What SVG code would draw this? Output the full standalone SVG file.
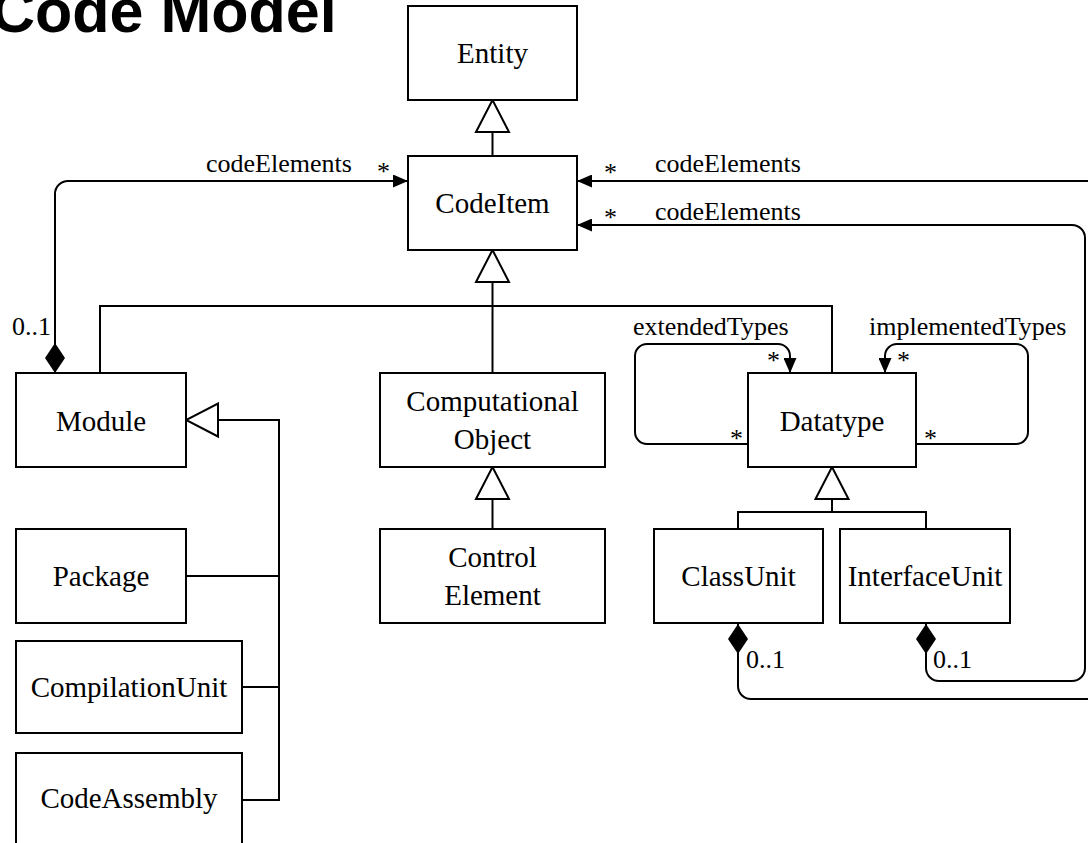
<svg xmlns="http://www.w3.org/2000/svg" width="1088" height="843" viewBox="0 0 1088 843">
  <style>
    .box { fill: #ffffff; stroke: #000000; stroke-width: 2; }
    .lbl { font-family: "Liberation Serif", "Times New Roman", serif; font-size: 29px; fill: #000000; text-anchor: middle; }
    .elbl { font-family: "Liberation Serif", "Times New Roman", serif; font-size: 26px; fill: #000000; }
    .edge { fill: none; stroke: #000000; stroke-width: 2; }
    .title { font-family: "Liberation Sans", Arial, sans-serif; font-size: 61px; font-weight: bold; fill: #000000; }
  </style>
  <defs>
    <!-- filled navigation arrow -->
    <marker id="arrow" markerUnits="userSpaceOnUse" markerWidth="15" markerHeight="13" refX="15" refY="6.5" orient="auto">
      <path d="M0,0 L15,6.5 L0,13 z" fill="#000000"/>
    </marker>
    <!-- hollow generalization triangle -->
    <marker id="gen" markerUnits="userSpaceOnUse" viewBox="-2 -2 36 37" markerWidth="36" markerHeight="37" refX="32" refY="16.5" orient="auto">
      <path d="M0,0 L32,16.5 L0,33 z" fill="#ffffff" stroke="#000000" stroke-width="2"/>
    </marker>
    <!-- filled composition diamond -->
    <marker id="comp" markerUnits="userSpaceOnUse" viewBox="0 -1 31 22" markerWidth="31" markerHeight="22" refX="0" refY="10" orient="auto">
      <path d="M0,10 L15,0 L30,10 L15,20 z" fill="#000000"/>
    </marker>
  </defs>

  <rect width="1088" height="843" fill="#ffffff"/>

  <text class="title" x="-9" y="32">Code Model</text>

  <g id="connectors">
    <!-- generalizations -->
    <path class="edge" d="M492.5,156 V100" marker-end="url(#gen)"/>
    <path class="edge" d="M492.5,373 V250" marker-end="url(#gen)"/>
    <path class="edge" d="M100,373 V306 H832 V373"/>
    <path class="edge" d="M492.5,529 V467" marker-end="url(#gen)"/>
    <path class="edge" d="M832,512 V467" marker-end="url(#gen)"/>
    <path class="edge" d="M738,529 V512 H926 V529"/>
    <path class="edge" d="M242,800 H279 V420 H186" marker-end="url(#gen)"/>
    <path class="edge" d="M186,576 H279"/>
    <path class="edge" d="M242,687 H279"/>

    <!-- codeElements associations -->
    <path class="edge" d="M55,373 V194 A13,13 0 0 1 68,181 H408" marker-start="url(#comp)" marker-end="url(#arrow)"/>
    <path class="edge" d="M1100,181 H577" marker-end="url(#arrow)"/>
    <path class="edge" d="M926,624 V668 A13,13 0 0 0 939,681 H1072 A13,13 0 0 0 1085,668 V238 A13,13 0 0 0 1072,225 H577" marker-start="url(#comp)" marker-end="url(#arrow)"/>
    <path class="edge" d="M738,624 V686 A13,13 0 0 0 751,699 H1100" marker-start="url(#comp)"/>

    <!-- self associations on Datatype -->
    <path class="edge" d="M748,444 H647 A12,12 0 0 1 635,432 V356 A12,12 0 0 1 647,344 H778 A12,12 0 0 1 790,356 V373" marker-end="url(#arrow)"/>
    <path class="edge" d="M916,444 H1016 A12,12 0 0 0 1028,432 V356 A12,12 0 0 0 1016,344 H897 A12,12 0 0 0 885,356 V373" marker-end="url(#arrow)"/>

    <!-- edge labels -->
    <text class="elbl" x="206" y="172">codeElements</text>
    <text class="elbl" x="377" y="180">*</text>
    <text class="elbl" x="12" y="335">0..1</text>
    <text class="elbl" x="604" y="181">*</text>
    <text class="elbl" x="655" y="172">codeElements</text>
    <text class="elbl" x="604" y="226">*</text>
    <text class="elbl" x="655" y="220">codeElements</text>
    <text class="elbl" x="633" y="335">extendedTypes</text>
    <text class="elbl" x="767" y="369">*</text>
    <text class="elbl" x="730" y="447">*</text>
    <text class="elbl" x="869" y="335">implementedTypes</text>
    <text class="elbl" x="897" y="369">*</text>
    <text class="elbl" x="924" y="447">*</text>
    <text class="elbl" x="746" y="668">0..1</text>
    <text class="elbl" x="933" y="668">0..1</text>
  </g>

  <g id="entity">
    <rect class="box" x="408" y="6" width="169" height="94"/>
    <text class="lbl" x="492.5" y="63">Entity</text>
  </g>
  <g id="codeitem">
    <rect class="box" x="408" y="156" width="169" height="94"/>
    <text class="lbl" x="492.5" y="213">CodeItem</text>
  </g>
  <g id="module">
    <rect class="box" x="16" y="373" width="170" height="94"/>
    <text class="lbl" x="101" y="431">Module</text>
  </g>
  <g id="computationalobject">
    <rect class="box" x="380" y="373" width="225" height="94"/>
    <text class="lbl" x="492.5" y="411">Computational</text>
    <text class="lbl" x="492.5" y="449">Object</text>
  </g>
  <g id="datatype">
    <rect class="box" x="748" y="373" width="168" height="94"/>
    <text class="lbl" x="832" y="431">Datatype</text>
  </g>
  <g id="package">
    <rect class="box" x="16" y="529" width="170" height="94"/>
    <text class="lbl" x="101" y="586">Package</text>
  </g>
  <g id="controlelement">
    <rect class="box" x="380" y="529" width="225" height="94"/>
    <text class="lbl" x="492.5" y="567">Control</text>
    <text class="lbl" x="492.5" y="605">Element</text>
  </g>
  <g id="classunit">
    <rect class="box" x="654" y="529" width="169" height="94"/>
    <text class="lbl" x="738.5" y="586">ClassUnit</text>
  </g>
  <g id="interfaceunit">
    <rect class="box" x="840" y="529" width="170" height="94"/>
    <text class="lbl" x="925" y="586">InterfaceUnit</text>
  </g>
  <g id="compilationunit">
    <rect class="box" x="16" y="641" width="226" height="92"/>
    <text class="lbl" x="129" y="697">CompilationUnit</text>
  </g>
  <g id="codeassembly">
    <rect class="box" x="16" y="753" width="226" height="94"/>
    <text class="lbl" x="129" y="808">CodeAssembly</text>
  </g>
</svg>
